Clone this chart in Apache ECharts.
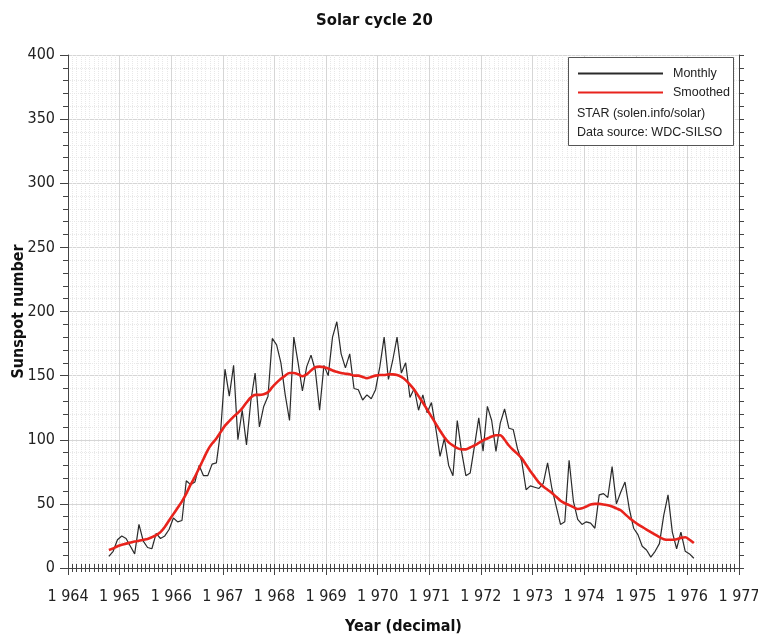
<!DOCTYPE html>
<html>
<head>
<meta charset="utf-8">
<script src="https://cdn.jsdelivr.net/npm/echarts@6/dist/echarts.min.js"></script>
<style>
  html, body { margin: 0; padding: 0; background: #fff; }
  #solar-chart { width: 758px; height: 638px; }
</style>
</head>
<body>
<div id="solar-chart"></div>
<script>
// first month of the series: October 1964, one value per month
let startYear = 1964
let startMonth = 10

let monthly = [
  9, 13, 22, 25, 23, 17, 11, 34, 21, 16,
  15, 27, 23, 25, 30, 39, 36, 37, 68, 65,
  67, 80, 72, 72, 81, 82, 107, 155, 134, 158,
  100, 123, 96, 130, 152, 110, 126, 134, 179, 174,
  160, 135, 115, 180, 160, 138, 157, 166, 154, 123,
  158, 150, 180, 192, 167, 156, 167, 140, 139, 131,
  135, 132, 139, 157, 180, 147, 162, 180, 152, 160,
  133, 140, 123, 135, 121, 129, 109, 87, 101, 80,
  72, 115, 91, 72, 74, 95, 117, 91, 126, 115,
  91, 113, 124, 109, 108, 93, 83, 61, 64, 63,
  62, 66, 82, 62, 48, 34, 36, 84, 52, 38,
  34, 36, 35, 31, 57, 58, 55, 79, 50, 59,
  67, 46, 31, 26, 17, 14, 8.5, 13, 19, 41,
  57, 28, 15, 28, 13, 11, 7.6
]

let smoothed = [
  14, 15.3, 17, 18.2, 19, 19.8, 20.6, 21.2, 22, 22.7,
  24, 25.6, 28, 32, 37, 42, 47, 52, 58, 65,
  71, 78, 85, 92, 97, 101, 106, 111, 114.5, 118,
  121, 124.5, 129, 133, 135, 135, 135.5, 137, 141, 144.5,
  147.5, 150, 152, 152, 151, 149.5, 151, 154, 156.5, 157,
  156.5, 155.5, 154, 153, 152, 151.5, 151, 150, 150, 149,
  148, 149, 150, 150.5, 150.5, 151, 151, 150.5, 149, 146.5,
  143, 139, 134, 129, 123.5, 118, 112.5, 107, 102, 98,
  95.5, 93.5, 92.5, 92.5, 94, 95.5, 97.5, 99.5, 101, 102.5,
  103.5, 103.5, 100, 95.5, 92, 89, 85.5, 80.5, 75.5, 71,
  66.5, 63.5, 61, 58.5, 55.5, 52.5, 50.5, 49, 47.5, 46,
  46.5, 48, 49.5, 50, 50, 49.5, 49, 48, 46.5, 45,
  42, 39, 36.5, 34, 32, 30, 28, 26, 24, 22.5,
  22, 22, 22.5, 23.5, 24, 22, 19.5
]

let seriesNames = ['Monthly', 'Smoothed']
let notes = ['STAR (solen.info/solar)', 'Data source: WDC-SILSO']

// decimal year at the middle of each month
function toPairs(values) {
  return values.map(function (v, i) {
    return [startYear + (startMonth - 1 + i + 0.5) / 12, v]
  })
}

let labelFont = "'DejaVu Sans Condensed', 'DejaVu Sans', sans-serif"
let legendFont = "'Liberation Sans', Arial, sans-serif"
let axisColor = '#444'

function yearLabel(v) {
  let s = String(v)
  return s.slice(0, 1) + ' ' + s.slice(1)
}

let chart = echarts.init(document.getElementById('solar-chart'))

let option = {
  backgroundColor: '#fff',
  animation: false,
  title: {
    text: 'Solar cycle 20',
    left: 311,
    top: 7,
    textStyle: {
      fontFamily: labelFont,
      fontWeight: 'bold',
      fontSize: 16.5,
      color: '#111'
    }
  },
  grid: {
    left: 68,
    right: 19,
    top: 55,
    bottom: 70,
    outerBoundsMode: 'none'
  },
  legend: {
    orient: 'vertical',
    left: 577,
    top: 67,
    z: 6,
    padding: 0,
    itemWidth: 85,
    itemHeight: 14,
    itemGap: 6,
    itemStyle: { opacity: 0 },
    data: seriesNames,
    textStyle: {
      fontFamily: legendFont,
      fontSize: 12.5,
      color: '#222',
      padding: [0, 0, 0, 5]
    }
  },
  graphic: [
    {
      type: 'rect',
      z: 5,
      shape: { x: 568.5, y: 57.5, width: 165, height: 88 },
      style: { fill: '#fff', stroke: '#555', lineWidth: 1 }
    },
    {
      type: 'text',
      z: 6,
      left: 577,
      top: 107,
      style: {
        text: notes[0],
        fontFamily: legendFont,
        fontSize: 12.5,
        fill: '#222'
      }
    },
    {
      type: 'text',
      z: 6,
      left: 577,
      top: 126,
      style: {
        text: notes[1],
        fontFamily: legendFont,
        fontSize: 12.5,
        fill: '#222'
      }
    }
  ],
  xAxis: [
    {
      type: 'value',
      min: 1964,
      max: 1977,
      interval: 1,
      name: 'Year (decimal)',
      nameLocation: 'middle',
      nameGap: 51,
      nameMoveOverlap: false,
      nameTextStyle: {
        fontFamily: labelFont,
        fontWeight: 'bold',
        fontSize: 16,
        color: '#111'
      },
      axisLine: { lineStyle: { color: axisColor } },
      axisTick: { length: 7, lineStyle: { color: axisColor } },
      minorTick: { show: true, splitNumber: 12, length: 4, lineStyle: { color: axisColor } },
      axisLabel: {
        margin: 21,
        fontFamily: labelFont,
        fontSize: 16,
        color: '#222',
        formatter: yearLabel
      },
      splitLine: { show: true, lineStyle: { color: '#d6d6d6' } },
      minorSplitLine: { show: true, lineStyle: { color: '#e8e8e8', type: 'dotted' } }
    },
    {
      type: 'value',
      position: 'top',
      min: 1964,
      max: 1977,
      interval: 1,
      axisLine: { show: true, lineStyle: { color: axisColor } },
      axisTick: { show: true, length: 4, lineStyle: { color: axisColor } },
      minorTick: { show: true, splitNumber: 12, length: 4, lineStyle: { color: axisColor } },
      axisLabel: { show: false },
      splitLine: { show: false }
    }
  ],
  yAxis: [
    {
      type: 'value',
      min: 0,
      max: 400,
      interval: 50,
      name: 'Sunspot number',
      nameLocation: 'middle',
      nameGap: 41,
      nameMoveOverlap: false,
      nameTextStyle: {
        fontFamily: labelFont,
        fontWeight: 'bold',
        fontSize: 16,
        color: '#111'
      },
      axisLine: { show: true, lineStyle: { color: axisColor } },
      axisTick: { show: true, length: 8, lineStyle: { color: axisColor } },
      minorTick: { show: true, splitNumber: 5, length: 5, lineStyle: { color: axisColor } },
      axisLabel: {
        margin: 13,
        fontFamily: labelFont,
        fontSize: 16,
        color: '#222'
      },
      splitLine: { show: true, lineStyle: { color: '#d6d6d6' } },
      minorSplitLine: { show: true, lineStyle: { color: '#e8e8e8', type: 'dotted' } }
    },
    {
      type: 'value',
      position: 'right',
      min: 0,
      max: 400,
      interval: 50,
      axisLine: { show: true, lineStyle: { color: axisColor } },
      axisTick: { show: true, length: 5, lineStyle: { color: axisColor } },
      minorTick: { show: true, splitNumber: 5, length: 5, lineStyle: { color: axisColor } },
      axisLabel: { show: false },
      splitLine: { show: false }
    }
  ],
  series: [
    {
      name: seriesNames[0],
      type: 'line',
      data: toPairs(monthly),
      symbol: 'none',
      z: 3,
      lineStyle: { color: '#2a2a2a', width: 1.2 },
      itemStyle: { color: '#2a2a2a' }
    },
    {
      name: seriesNames[1],
      type: 'line',
      data: toPairs(smoothed),
      symbol: 'none',
      smooth: 0.3,
      z: 4,
      lineStyle: { color: '#e8231c', width: 2.6 },
      itemStyle: { color: '#e8231c' }
    }
  ]
}

chart.setOption(option)
</script>
</body>
</html>
